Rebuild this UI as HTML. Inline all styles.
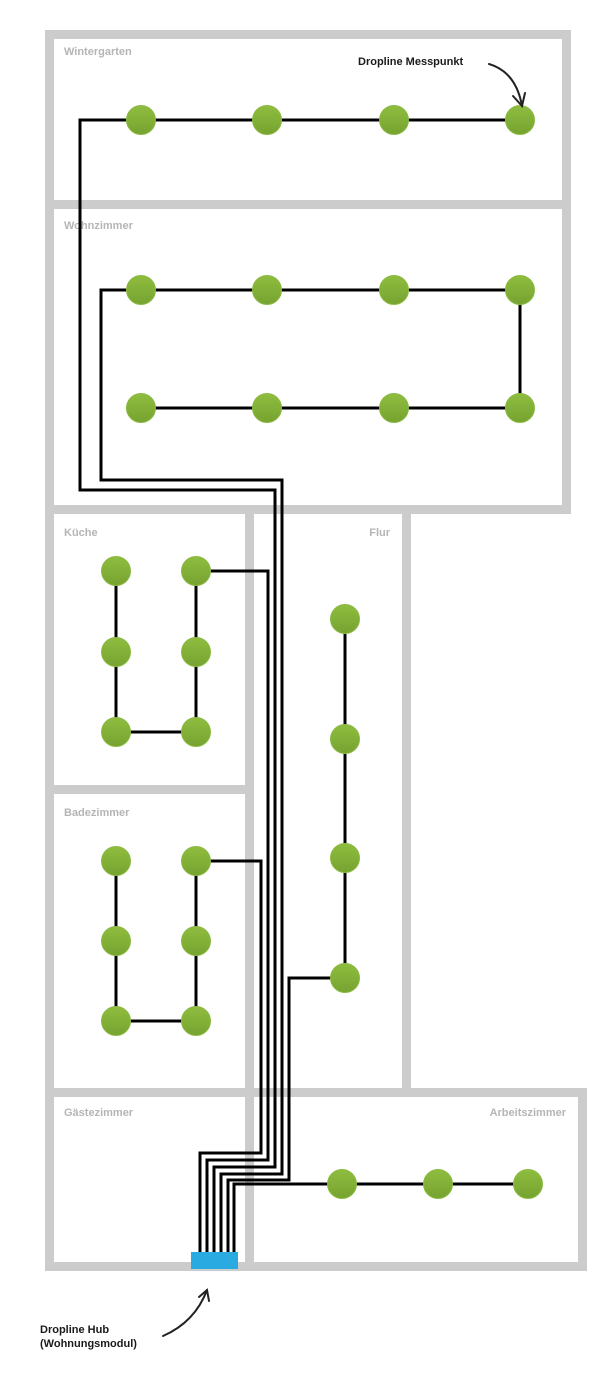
<!DOCTYPE html>
<html><head><meta charset="utf-8"><style>
html,body{margin:0;padding:0;background:#fff;width:615px;height:1375px;overflow:hidden}
svg{display:block}
text{font-family:"Liberation Sans",sans-serif;font-weight:bold}
.l{fill:#b5b5b5;font-size:11px}
.a{fill:#1a1a1a;font-size:11px}
</style></head><body>
<svg width="615" height="1375" viewBox="0 0 615 1375">
<defs>
<linearGradient id="g" x1="0" y1="0" x2="0" y2="1"><stop offset="0" stop-color="#8fbd3f"/><stop offset="1" stop-color="#76a330"/></linearGradient>
</defs>
<g fill="#cccccc">
<rect x="45" y="30" width="526" height="9"/>
<rect x="45" y="30" width="9" height="1241"/>
<rect x="562" y="30" width="9" height="484"/>
<rect x="45" y="200" width="526" height="9"/>
<rect x="45" y="505" width="526" height="9"/>
<rect x="245" y="505" width="9" height="766"/>
<rect x="402" y="505" width="9" height="592"/>
<rect x="45" y="785" width="209" height="9"/>
<rect x="45" y="1088" width="542" height="9"/>
<rect x="578" y="1088" width="9" height="183"/>
<rect x="45" y="1262" width="542" height="9"/>
</g>
<text class="l" x="64" y="55">Wintergarten</text>
<text class="l" x="64" y="229">Wohnzimmer</text>
<text class="l" x="64" y="536">Küche</text>
<text class="l" x="390" y="536" text-anchor="end">Flur</text>
<text class="l" x="64" y="816">Badezimmer</text>
<text class="l" x="64" y="1116">Gästezimmer</text>
<text class="l" x="566" y="1116" text-anchor="end">Arbeitszimmer</text>
<g fill="none" stroke="#000" stroke-width="3" stroke-linejoin="miter">
<polyline points="520,120 80,120 80,490 275,490 275,1167 214,1167 214,1255"/>
<polyline points="141,408 520,408 520,290 101,290 101,480 282,480 282,1174 221,1174 221,1255"/>
<polyline points="116,571 116,732 196,732 196,571 268,571 268,1160 207,1160 207,1255"/>
<polyline points="116,861 116,1021 196,1021 196,861 261,861 261,1153 200,1153 200,1255"/>
<polyline points="345,619 345,978 289,978 289,1180 228,1180 228,1255"/>
<polyline points="528,1184 234,1184 234,1255"/>
</g>
<rect x="191" y="1252" width="47" height="17" fill="#29abe2"/>
<g fill="url(#g)" stroke="#8bb942" stroke-width="1">
<circle cx="141" cy="120" r="14.5"/><circle cx="267" cy="120" r="14.5"/><circle cx="394" cy="120" r="14.5"/><circle cx="520" cy="120" r="14.5"/>
<circle cx="141" cy="290" r="14.5"/><circle cx="267" cy="290" r="14.5"/><circle cx="394" cy="290" r="14.5"/><circle cx="520" cy="290" r="14.5"/>
<circle cx="141" cy="408" r="14.5"/><circle cx="267" cy="408" r="14.5"/><circle cx="394" cy="408" r="14.5"/><circle cx="520" cy="408" r="14.5"/>
<circle cx="116" cy="571" r="14.5"/><circle cx="196" cy="571" r="14.5"/><circle cx="116" cy="652" r="14.5"/><circle cx="196" cy="652" r="14.5"/><circle cx="116" cy="732" r="14.5"/><circle cx="196" cy="732" r="14.5"/>
<circle cx="116" cy="861" r="14.5"/><circle cx="196" cy="861" r="14.5"/><circle cx="116" cy="941" r="14.5"/><circle cx="196" cy="941" r="14.5"/><circle cx="116" cy="1021" r="14.5"/><circle cx="196" cy="1021" r="14.5"/>
<circle cx="345" cy="619" r="14.5"/><circle cx="345" cy="739" r="14.5"/><circle cx="345" cy="858" r="14.5"/><circle cx="345" cy="978" r="14.5"/>
<circle cx="342" cy="1184" r="14.5"/><circle cx="438" cy="1184" r="14.5"/><circle cx="528" cy="1184" r="14.5"/>
</g>
<text class="a" x="358" y="65">Dropline Messpunkt</text>
<g fill="none" stroke="#222" stroke-width="2" stroke-linecap="round">
<path d="M489,64 Q516,72 522,106"/>
<path d="M513,96 L522,106 L525,93"/>
<path d="M163,1336 Q195,1322 207,1290"/>
<path d="M199,1297 L207,1290 L209,1301"/>
</g>
<text class="a" x="40" y="1333">Dropline Hub</text>
<text class="a" x="40" y="1347">(Wohnungsmodul)</text>
</svg>
</body></html>
